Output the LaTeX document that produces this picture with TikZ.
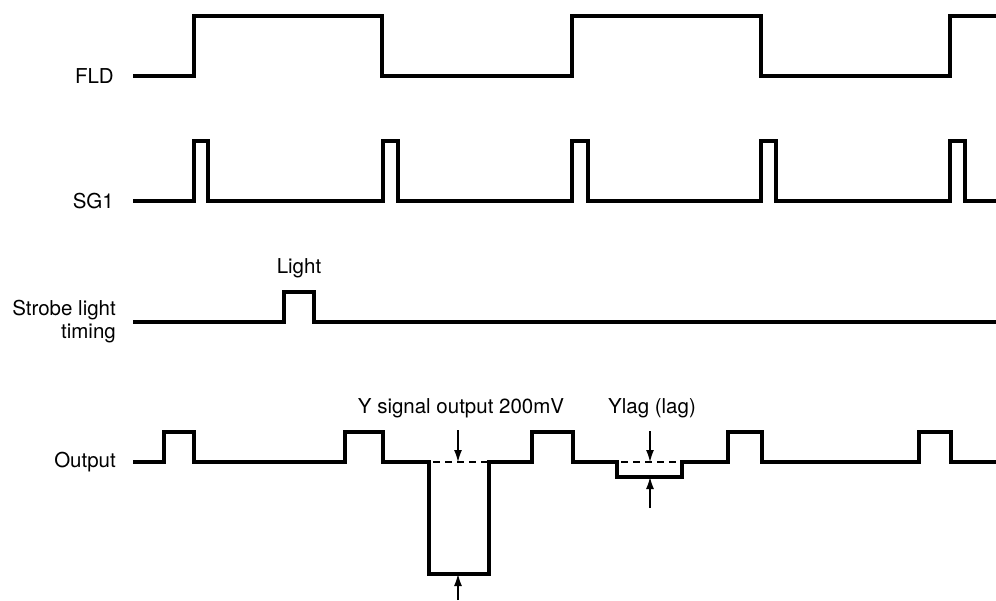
\documentclass[tikz,border=0pt]{standalone}
\usepackage{fontspec}
\setmainfont{TeX Gyre Heros}
\usetikzlibrary{arrows.meta}
\begin{document}
\begin{tikzpicture}[x=1pt,y=-1pt,
  sig/.style={line width=3.2pt,line join=miter,line cap=butt},
  lbl/.style={font=\fontsize{20.5}{23}\selectfont,inner sep=0pt},
  rlbl/.style={lbl,anchor=east,align=right},
  dim/.style={line width=1.3pt,-{Latex[length=12pt,width=8pt]}},
  ref/.style={line width=1.8pt,dash pattern=on 7pt off 5pt}]
\useasboundingbox (0,0) rectangle (996,600);
% labels
\node[rlbl] (lfld) at (114,76) {FLD};
\node[rlbl] (lsg) at (114,201) {SG1};
\node[rlbl] (lstr) at (116,322) {Strobe light\\timing};
\node[rlbl] (lout) at (116,462) {Output};
\node[lbl] (light) at (299,268) {Light};
\node[lbl] (ysig) at (461,408) {Y signal output 200mV};
\node[lbl] (ylag) at (652,408) {Ylag (lag)};
% FLD
\draw[sig] (133,76) -- (194,76) -- (194,16) -- (382,16) -- (382,76) -- (572,76) -- (572,16)
  -- (761,16) -- (761,76) -- (950,76) -- (950,16) -- (996,16);
% SG1
\draw[sig] (133,201) -- (194,201) -- (194,141) -- (208,141) -- (208,201)
  -- (383,201) -- (383,141) -- (398,141) -- (398,201)
  -- (572,201) -- (572,141) -- (588,141) -- (588,201)
  -- (761,201) -- (761,141) -- (776,141) -- (776,201)
  -- (950,201) -- (950,141) -- (965,141) -- (965,201) -- (996,201);
% Strobe
\draw[sig] (133,322) -- (284,322) -- (284,292) -- (314,292) -- (314,322) -- (996,322);
% Output
\draw[sig] (133,462) -- (164,462) -- (164,432) -- (194,432) -- (194,462)
  -- (345,462) -- (345,432) -- (383,432) -- (383,462) -- (429,462)
  -- (429,574) -- (489,574) -- (489,462)
  -- (532,462) -- (532,432) -- (573,432) -- (573,462) -- (617,462)
  -- (617,477) -- (682,477) -- (682,462)
  -- (728,462) -- (728,432) -- (762,432) -- (762,462)
  -- (919,462) -- (919,432) -- (951,432) -- (951,462) -- (996,462);
% references
\draw[ref] (433,462) -- (489,462);
\draw[ref] (621,462) -- (682,462);
% dimension arrows
\coordinate (a1s) at (458,430); \coordinate (a1e) at (458,462);
\coordinate (a2s) at (458,600); \coordinate (a2e) at (458,574);
\coordinate (b1s) at (650,431); \coordinate (b1e) at (650,462);
\coordinate (b2s) at (650,508); \coordinate (b2e) at (650,477);
\draw[dim] (a1s) -- (a1e);
\draw[dim] (a2s) -- (a2e);
\draw[dim] (b1s) -- (b1e);
\draw[dim] (b2s) -- (b2e);
\end{tikzpicture}
\end{document}
